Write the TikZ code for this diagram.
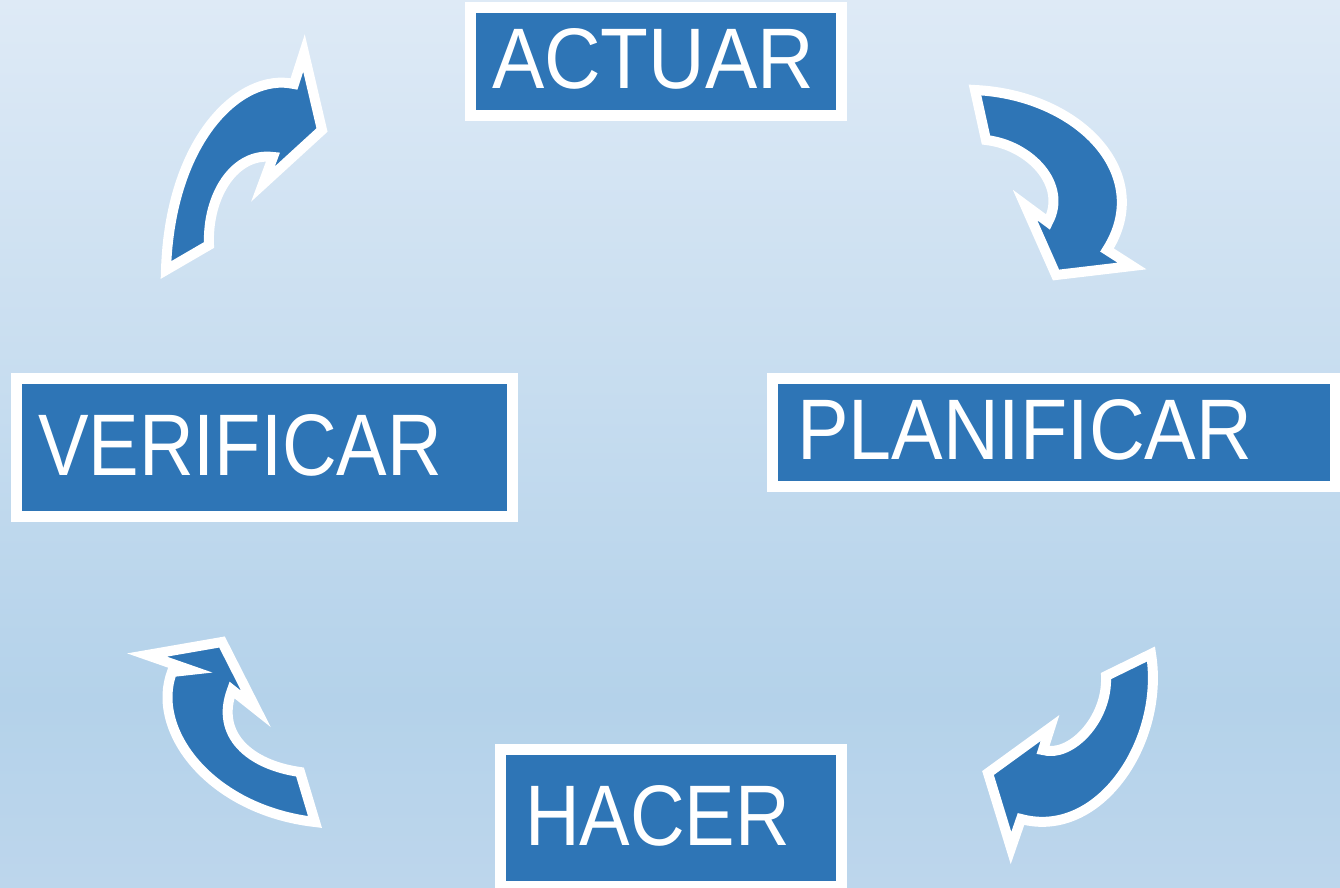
\documentclass[tikz,border=0pt]{standalone}
\usepackage{fontspec}
\setmainfont{Liberation Sans}
\usepackage{graphicx}
\definecolor{bgtop}{HTML}{DEEAF6}
\definecolor{bgmid}{HTML}{B4D2EA}
\definecolor{bgbot}{HTML}{BDD6EC}
\definecolor{pdcablue}{HTML}{2E75B6}
\pgfdeclareverticalshading{bgshade}{100bp}{color(0bp)=(bgbot); color(25bp)=(bgbot); color(35.5bp)=(bgmid); color(75bp)=(bgtop); color(100bp)=(bgtop)}
\tikzset{
  stagebox/.style={draw=white, fill=pdcablue, line width=11pt, inner sep=0pt, outer sep=0pt, anchor=north west},
  stagelabel/.style={anchor=base west, inner sep=0pt, outer sep=0pt, text=white},
  cyclearrow/.style={draw=white, fill=pdcablue, line width=10pt, line join=miter, miter limit=20},
}
\begin{document}
\begin{tikzpicture}[x=1pt,y=-1pt]
\useasboundingbox (0,0) rectangle (1340,887);
\clip (0,0) rectangle (1340,887);
\shade[shading=bgshade] (0,0) rectangle (1340,887);

% stage boxes
\node[stagebox, minimum width=371pt, minimum height=108pt] (actuar) at (470.5,7.5) {};
\node[stagebox, minimum width=496pt, minimum height=137.5pt] (verificar) at (16.5,378.5) {};
\node[stagebox, minimum width=563pt, minimum height=108pt] (planificar) at (772.5,378.5) {};
\node[stagebox, minimum width=341pt, minimum height=137pt] (hacer) at (500.5,749.5) {};

% labels
\node[stagelabel] (tactuar) at (492,88) {\resizebox{322pt}{60pt}{ACTUAR}};
\node[stagelabel] (tverificar) at (38,475) {\resizebox{404pt}{61pt}{VERIFICAR}};
\node[stagelabel] (tplanificar) at (797,459.5) {\resizebox{455pt}{60pt}{PLANIFICAR}};
\node[stagelabel] (thacer) at (525,845) {\resizebox{265pt}{60pt}{HACER}};

% curved arrows
% top-left (towards ACTUAR)
\path[cyclearrow] (166,270) -- (209,245) .. controls (207,195) and (235,152) .. (273,157)
  -- (263,184) -- (322,130) -- (304,53) -- (294,84)
  .. controls (240,72) and (170,140) .. (166,270) -- cycle;
% top-right (towards PLANIFICAR)
\path[cyclearrow] (975,90) -- (986,140) .. controls (1030,145) and (1068,185) .. (1048,222)
  -- (1025,205) -- (1056,275) -- (1132,266) -- (1107,250)
  .. controls (1155,175) and (1080,95) .. (975,90) -- cycle;
% bottom-right (towards HACER)
\path[cyclearrow] (1151,654) -- (1106,676) .. controls (1108,720) and (1070,758) .. (1043,750)
  -- (1050,728) -- (988,773) -- (1011,848) -- (1021,819)
  .. controls (1100,840) and (1165,740) .. (1151,654) -- cycle;
% bottom-left (towards VERIFICAR)
\path[cyclearrow] (315,822) -- (300,772) .. controls (250,765) and (215,735) .. (232,690)
  -- (256,709) -- (222,642) -- (147,655) -- (190,670) -- (172,672)
  .. controls (150,730) and (210,810) .. (315,822) -- cycle;
\end{tikzpicture}
\end{document}
